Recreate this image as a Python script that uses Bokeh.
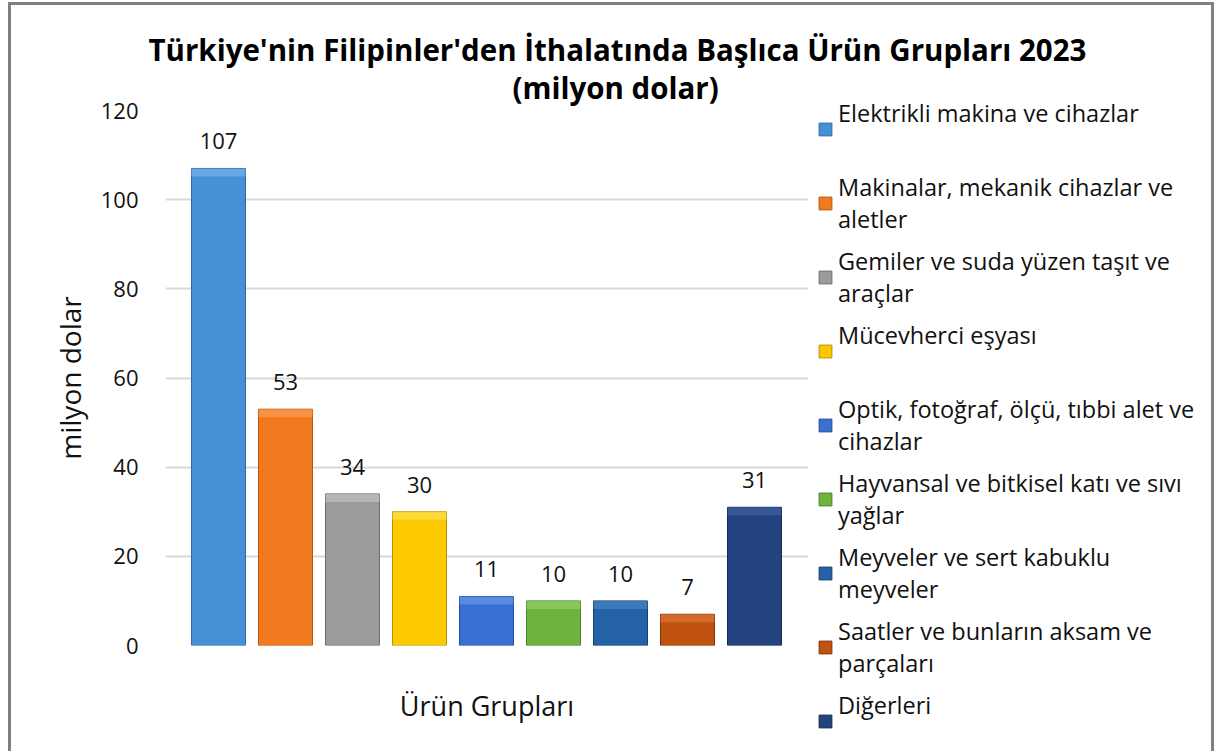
from bokeh.plotting import figure
from bokeh.models import ColumnDataSource, Legend, LegendItem, FixedTicker, Range1d, Title
from bokeh.core.properties import value
from bokeh.embed import file_html
from bokeh.resources import INLINE

categories = [
    "Elektrikli makina ve cihazlar",
    "Makinalar, mekanik cihazlar ve aletler",
    "Gemiler ve suda yüzen taşıt ve araçlar",
    "Mücevherci eşyası",
    "Optik, fotoğraf, ölçü, tıbbi alet ve cihazlar",
    "Hayvansal ve bitkisel katı ve sıvı yağlar",
    "Meyveler ve sert kabuklu meyveler",
    "Saatler ve bunların aksam ve parçaları",
    "Diğerleri",
]
legend_labels = [
    "Elektrikli makina ve cihazlar\n ",
    "Makinalar, mekanik cihazlar ve\naletler",
    "Gemiler ve suda yüzen taşıt ve\naraçlar",
    "Mücevherci eşyası\n ",
    "Optik, fotoğraf, ölçü, tıbbi alet ve\ncihazlar",
    "Hayvansal ve bitkisel katı ve sıvı\nyağlar",
    "Meyveler ve sert kabuklu\nmeyveler",
    "Saatler ve bunların aksam ve\nparçaları",
    "Diğerleri\n ",
]
values = [107, 53, 34, 30, 11, 10, 10, 7, 31]
colors = ["#4690D8", "#F27A1E", "#9B9B9B", "#FCC900", "#3A6FD3",
          "#6DB33E", "#2362A6", "#C0520F", "#24437F"]
edge_colors = ["#2F6AA6", "#B8560F", "#6E6E6E", "#B89200", "#254E9E",
               "#4B822A", "#16406E", "#7E3408", "#152A55"]
bevel_colors = ["#7DB8F0", "#FBA15E", "#C8C8C8", "#FFE45C", "#6E9BEB",
                "#9AD66B", "#4D8BCB", "#E27A3A", "#4465A8"]

title_line1 = "Türkiye'nin Filipinler'den İthalatında Başlıca Ürün Grupları 2023"
title_line2 = "(milyon dolar)"
x_title = "Ürün Grupları"
y_title = "milyon dolar"
y_ticks = [0, 20, 40, 60, 80, 100, 120]

FONT = "Open Sans"

xs = list(range(len(values)))
bevel = [v - 1.8 for v in values]
src = ColumnDataSource(dict(x=xs, top=values, bevel=bevel, color=colors,
                            edge=edge_colors, bcol=bevel_colors,
                            lbl=[str(v) for v in values], cat=categories))

p = figure(frame_width=643, frame_height=535, output_backend="svg", toolbar_location=None,
           x_range=Range1d(-0.791, 8.806), y_range=Range1d(0, 120),
           min_border_left=154, min_border_right=0, min_border_top=105,
           min_border_bottom=109)
p.styles = {"border": "3px solid #808080", "border-bottom": "none",
            "margin-left": "8px", "margin-top": "2px",
            "width": "1206px", "height": "749px", "overflow": "hidden"}

t2 = Title(text=title_line2, align="left", text_font=FONT, text_font_size="29.5px",
           text_font_style="bold", text_color="#000000", standoff=6, offset=347)
t1 = Title(text=title_line1, align="left", text_font=FONT, text_font_size="29.5px",
           text_font_style="bold", text_color="#000000", standoff=0, offset=-17)
try:
    t1.standoff = -16
except Exception:
    t1.standoff = 0
p.add_layout(t2, "above")
p.add_layout(t1, "above")

r = p.vbar(x="x", top="top", bottom=0, width=0.806, source=src,
           fill_color="color", line_color="edge", line_width=1)
p.vbar(x="x", top="top", bottom="bevel", width=0.806, source=src,
       fill_color="bcol", line_color=None, fill_alpha=0.6)

p.text(x="x", y="top", text="lbl", source=src, text_align="center",
       text_baseline="middle", y_offset=-27, text_font=value(FONT),
       text_font_size="22px", text_color="#111111")

p.xgrid.visible = False
p.ygrid.grid_line_color = "#D9D9D9"
p.ygrid.grid_line_width = 2
p.yaxis.ticker = FixedTicker(ticks=y_ticks)
p.xaxis.ticker = FixedTicker(ticks=[])
for ax in (p.xaxis[0], p.yaxis[0]):
    ax.axis_line_color = None
    ax.major_tick_line_color = None
    ax.minor_tick_line_color = None
    ax.axis_label_text_font = FONT
    ax.axis_label_text_font_style = "normal"
    ax.axis_label_text_color = "#111111"
    ax.major_label_text_font = FONT
    ax.major_label_text_font_size = "22px"
    ax.major_label_text_color = "#111111"
p.yaxis.axis_label_text_font_size = "28px"
p.xaxis.axis_label_text_font_size = "27px"
p.yaxis.major_label_standoff = 21
p.yaxis.axis_label = y_title
p.yaxis.axis_label_standoff = 9
p.xaxis.axis_label = x_title
p.xaxis.axis_label_standoff = 41

p.outline_line_color = None

items = [LegendItem(label=legend_labels[i], renderers=[r], index=i) for i in xs]
legend = Legend(items=items, location=(9, -108), orientation="vertical",
                glyph_width=16, glyph_height=16, label_standoff=5,
                label_text_font=FONT, label_text_font_size="23.5px",
                label_text_color="#111111",
                spacing=10, padding=0, margin=0,
                border_line_color=None, background_fill_alpha=0)
p.add_layout(legend, "right")

open("out.html", "w").write(file_html(p, INLINE))
